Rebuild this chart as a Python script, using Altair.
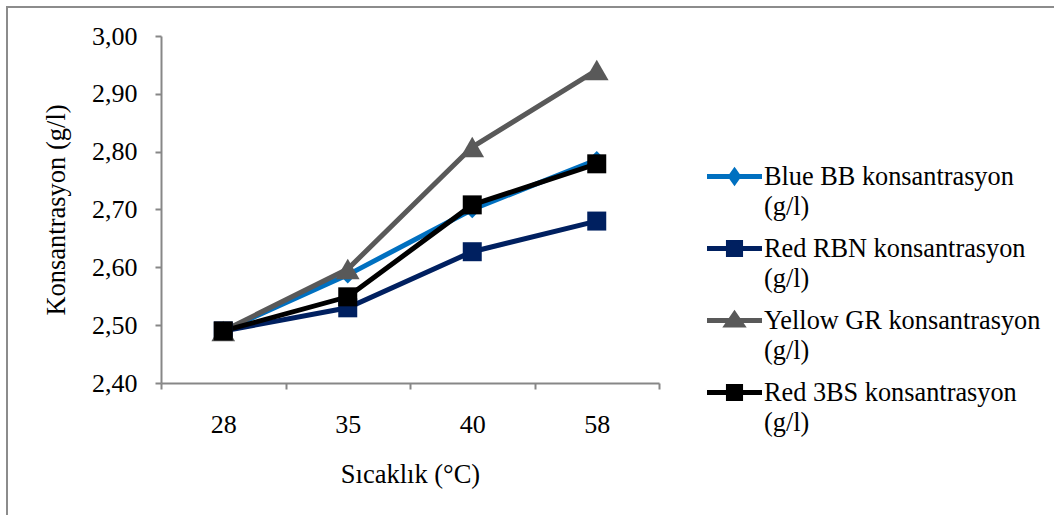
import altair as alt
import pandas as pd

# ---- data ----
temps = ["28", "35", "40", "58"]
series = [
    "Blue BB konsantrasyon (g/l)",
    "Red RBN konsantrasyon (g/l)",
    "Yellow GR konsantrasyon (g/l)",
    "Red 3BS konsantrasyon (g/l)",
]
blue_bb = [2.49, 2.587, 2.70, 2.786]
red_rbn = [2.49, 2.53, 2.627, 2.68]
yellow_gr = [2.49, 2.597, 2.808, 2.941]
red_3bs = [2.49, 2.549, 2.708, 2.779]
y_ticks = [2.40, 2.50, 2.60, 2.70, 2.80, 2.90, 3.00]

colors = ["#0070C0", "#002060", "#595959", "#000000"]
shapes = ["diamond", "square", "triangle-up", "square"]
sizes = [300, 361, 560, 361]
# legend symbols: a line segment with the marker
legend_paths = [
    "M-1.1,0H1.1M0,-0.22L0.154,0L0,0.22L-0.154,0Z",
    "M-1.1,0H1.1M-0.242,-0.242H0.242V0.242H-0.242Z",
    "M-1.1,0H1.1M0,-0.253L0.297,0.176H-0.297Z",
    "M-1.1,0H1.1M-0.242,-0.242H0.242V0.242H-0.242Z",
]

rows = []
for name, vals in zip(series, [blue_bb, red_rbn, yellow_gr, red_3bs]):
    for t, v in zip(temps, vals):
        rows.append({"temp": t, "value": v, "series": name})
df = pd.DataFrame(rows)

FONT = "Liberation Serif"
AX = "#878787"

x_enc = alt.X(
    "temp:O",
    sort=temps,
    scale=alt.Scale(type="band", paddingInner=0, paddingOuter=0),
    axis=alt.Axis(
        title="Sıcaklık (°C)",
        tickBand="extent",
        labelAngle=0,
        tickSize=6,
        labelPadding=22,
        titlePadding=24,
    ),
)
y_enc = alt.Y(
    "value:Q",
    scale=alt.Scale(domain=[2.4, 3.0], nice=False, zero=False),
    axis=alt.Axis(
        title="Konsantrasyon (g/l)",
        values=y_ticks,
        labelExpr="replace(format(datum.value, '.2f'), '.', ',')",
        tickSize=6,
        labelPadding=18,
        titlePadding=21,
        grid=False,
    ),
)

base = alt.Chart(df)
lines = base.mark_line(strokeWidth=5).encode(
    x=x_enc,
    y=y_enc,
    color=alt.Color("series:N", sort=series,
                    scale=alt.Scale(domain=series, range=colors), legend=None),
    order=alt.Order("temp:O"),
)

point_layers = [
    base.transform_filter(alt.datum.series == s)
    .mark_point(filled=True, opacity=1, shape=shp, size=sz, color=c)
    .encode(x=x_enc, y=y_enc)
    for s, shp, sz, c in zip(series, shapes, sizes, colors)
]

leg = alt.Legend(
    title=None,
    orient="none",
    legendX=546,
    legendY=113,
    padding=0,
    symbolSize=2500,
    symbolStrokeWidth=5,
    symbolOpacity=1,
    symbolFillColor="#000000",
    symbolStrokeColor="#000000",
    labelFontSize=26.3,
    labelFont=FONT,
    labelColor="#000000",
    labelOffset=2,
    labelLimit=400,
    rowPadding=1,
    labelExpr="[substring(datum.label, 0, length(datum.label) - 6), '(g/l)']",
)
# carries the legend only; its own marks are fully transparent
legend_layer = base.mark_point(filled=True).encode(
    x=x_enc,
    y=y_enc,
    fill=alt.Fill("series:N", sort=series, scale=alt.Scale(domain=series, range=colors), legend=leg),
    stroke=alt.Stroke("series:N", sort=series, scale=alt.Scale(domain=series, range=colors), legend=leg),
    shape=alt.Shape("series:N", sort=series, scale=alt.Scale(domain=series, range=legend_paths), legend=leg),
    opacity=alt.value(0),
)

frame = alt.Chart(pd.DataFrame({"k": [0]})).mark_rect(
    fillOpacity=0, stroke="#8c8c8c", strokeWidth=2
).encode(
    x=alt.value(-154), x2=alt.value(905), y=alt.value(-29), y2=alt.value(490)
)

chart = (
    alt.layer(frame, legend_layer, lines, *point_layers)
    .properties(
        width=498,
        height=347,
        autosize=alt.AutoSizeParams(type="none"),
        padding={"left": 161, "top": 36, "right": 395, "bottom": 132},
        background="white",
    )
    .configure(font=FONT, style={"guide-label": {"lineHeight": 30}})
    .configure_view(stroke=None)
    .configure_axis(
        labelFont=FONT,
        titleFont=FONT,
        labelFontSize=26,
        titleFontSize=26.5,
        labelColor="#000000",
        titleColor="#000000",
        titleFontWeight="normal",
        domainColor=AX,
        tickColor=AX,
        domainWidth=2,
        tickWidth=2,
    )
)

chart.save("out.html", embed_options={"renderer": "svg", "actions": False})
